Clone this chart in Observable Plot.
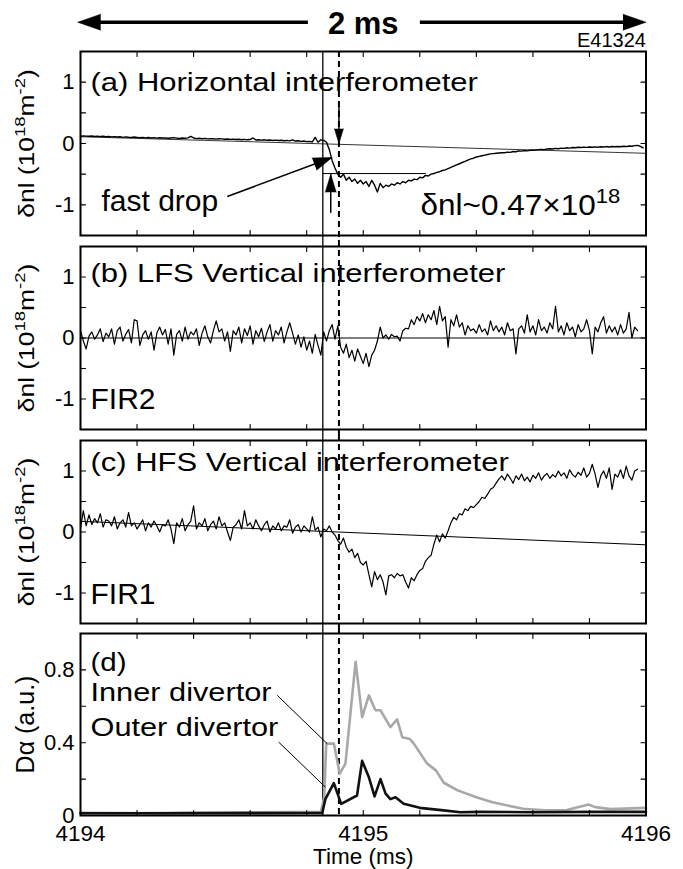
<!DOCTYPE html>
<html><head><meta charset="utf-8">
<script src="https://cdn.jsdelivr.net/npm/d3@7"></script>
<script src="https://cdn.jsdelivr.net/npm/@observablehq/plot@0.6"></script>
<style>
body{margin:0;background:#fff;}
#chart{width:683px;height:869px;position:relative;background:#fff;}
#chart svg{display:block;}
</style></head><body><div id="chart"></div>
<script>
// ---------- data ----------
const T0 = 4194, DT = 0.01;               // sampling of the interferometer traces (ms)
const xDomain = [4194, 4196];
const xTickValues = [4194, 4194.2, 4194.4, 4194.6, 4194.8, 4195, 4195.2, 4195.4, 4195.6, 4195.8, 4196];
const xLabelValues = [4194, 4195, 4196];
const xTickLabels = ["4194", "4195", "4196"];
const yTickValues = [-1, -0.5, 0, 0.5, 1];
const yLabelValues = [-1, 0, 1];
const yTickLabels = ["-1", "0", "1"];
const dTickValues = [0, 0.2, 0.4, 0.6, 0.8, 1.0];
const dLabelValues = [0, 0.4, 0.8];
const dTickLabels = ["0", "0.4", "0.8"];
const eventTimes = [4194.857, 4194.914];   // solid, dashed

const titles = ["(a) Horizontal interferometer", "(b) LFS Vertical interferometer", "(c) HFS Vertical interferometer", "(d)"];
const yLabelDn = "δnl (10^{18}m^{-2})";
const yLabelDa = "Dα (a.u.)";
const xLabel = "Time (ms)";

// (a) horizontal interferometer
const traceA = [
 0.12,0.125,0.12,0.118,0.122,0.115,0.12,0.113,0.118,0.11,
 0.115,0.108,0.112,0.105,0.11,0.1,0.108,0.102,0.098,0.105,
 0.1,0.095,0.1,0.092,0.098,0.09,0.095,0.088,0.093,0.09,
 0.092,0.085,0.09,0.095,0.088,0.082,0.09,0.085,0.092,0.115,
 0.09,0.08,0.085,0.078,0.083,0.075,0.08,0.077,0.072,0.078,
 0.075,0.07,0.073,0.068,0.072,0.065,0.07,0.062,0.068,0.06,
 0.065,0.09,0.058,0.062,0.055,0.06,0.052,0.058,0.05,0.055,
 0.048,0.052,0.045,0.05,0.042,0.06,0.04,0.045,0.035,0.04,
 0.03,0.035,0.025,0.1,0.02,0.06,0.05,0.02,-0.1,-0.28,
 -0.4,-0.5,-0.55,-0.5,-0.6,-0.55,-0.62,-0.58,-0.65,-0.6,
 -0.66,-0.62,-0.7,-0.6,-0.68,-0.79,-0.65,-0.72,-0.68,-0.7,
 -0.66,-0.68,-0.64,-0.66,-0.62,-0.64,-0.6,-0.61,-0.58,-0.59,
 -0.55,-0.56,-0.52,-0.53,-0.5,-0.49,-0.47,-0.46,-0.44,-0.43,
 -0.41,-0.39,-0.37,-0.35,-0.33,-0.31,-0.29,-0.27,-0.25,-0.24,
 -0.22,-0.21,-0.2,-0.19,-0.18,-0.17,-0.165,-0.16,-0.155,-0.15,
 -0.15,-0.14,-0.145,-0.13,-0.135,-0.12,-0.125,-0.115,-0.12,-0.11,
 -0.11,-0.105,-0.1,-0.095,-0.1,-0.09,-0.085,-0.09,-0.08,-0.085,
 -0.075,-0.08,-0.07,-0.075,-0.065,-0.07,-0.062,-0.066,-0.06,-0.064,
 -0.058,-0.062,-0.055,-0.06,-0.052,-0.058,-0.05,-0.056,-0.05,-0.054,
 -0.048,-0.052,-0.045,-0.05,-0.04,-0.045,-0.035,-0.03,-0.045,-0.07
];
const baselineA_t = [4194, 4196], baselineA_v = [0.11, -0.16];
const dropLevel_t = [4194.857, 4195.22], dropLevel_v = [-0.49, -0.49];
const downArrow = {t: 4194.914, from: 0.62, to: -0.005};
const upArrow = {t: 4194.885, from: -1.13, to: -0.5};
const fastDropArrow = {t1: 4194.519, v1: -0.865, t2: 4194.89, v2: -0.227};
const headerShafts = [{x1: 4194.03, x2: 4194.806}, {x1: 4195.202, x2: 4195.97}];
const headerHeads = [{t: 4193.99, rot: -90}, {t: 4196.0, rot: 90}];
const textA = {scale: "2 ms", shot: "E41324", fast: "fast drop", amount: "δnl~0.47×10^{18}"};

// (b) LFS vertical interferometer (FIR2)
const traceB = [
 0.12,-0.05,-0.18,0.03,0.1,-0.02,0.05,0.15,-0.06,0.08,
 0.02,0.15,-0.1,0.12,0.18,-0.05,0.06,0.14,-0.08,0.3,
 0.28,-0.12,0.05,0.12,-0.02,0.1,-0.2,0.08,0.18,0.05,
 0.14,-0.1,0.15,-0.28,0.06,0.12,-0.05,0.18,-0.02,0.1,
 0.05,0.15,-0.12,0.08,0.2,0.02,-0.08,0.12,0.28,0.1,
 0.15,-0.05,0.1,-0.22,0.12,0.05,0.18,-0.08,0.15,0.04,
 0.2,-0.1,0.12,0.02,0.16,-0.06,0.1,0.22,-0.05,0.12,
 0.05,0.18,-0.08,0.1,0.25,0.08,-0.1,0.05,-0.15,0.02,
 -0.2,-0.05,-0.25,0.06,-0.12,-0.28,0.1,-0.05,0.12,0.22,
 -0.02,0.2,-0.15,-0.25,-0.1,-0.32,-0.2,-0.38,-0.18,-0.3,
 -0.42,-0.25,-0.47,-0.28,-0.2,-0.05,0.18,0.0,0.05,-0.02,
 0.06,0.02,0.03,-0.05,0.12,0.16,0.15,0.3,0.22,0.35,
 0.28,0.4,0.25,0.38,0.3,0.45,0.22,0.52,0.28,0.35,
 -0.15,0.3,0.2,0.38,0.18,0.25,0.05,0.2,0.12,0.15,
 0.08,0.22,0.1,0.15,0.05,0.28,0.12,0.2,0.1,0.18,
 0.05,0.25,0.12,0.15,-0.26,0.15,0.2,0.08,0.38,0.1,
 0.2,0.05,0.3,0.12,0.18,0.08,0.25,0.15,0.52,0.1,
 0.2,0.05,0.25,0.12,0.18,0.02,0.22,0.1,0.15,0.3,
 0.12,-0.26,0.18,0.1,0.25,0.35,0.08,0.2,0.1,0.18,
 0.05,0.22,0.08,0.15,0.42,0.0,0.18,0.12
];
const baselineB_t = [4194, 4196], baselineB_v = [0, 0];
const labelB = "FIR2";

// (c) HFS vertical interferometer (FIR1)
const traceC = [
 0.05,0.35,0.1,0.28,0.12,0.22,0.15,0.3,0.08,0.2,
 0.18,0.1,0.25,0.05,0.15,0.2,0.08,0.32,0.1,0.15,
 0.05,0.12,0.2,0.02,0.15,0.08,0.18,0.1,0.0,0.12,
 0.1,0.2,0.05,-0.19,0.15,0.08,0.22,0.02,0.12,0.18,
 0.43,0.05,0.15,0.1,0.22,0.02,0.12,0.18,0.05,0.25,
 0.1,0.15,0.0,-0.14,0.08,0.12,0.2,0.05,0.35,0.1,
 0.15,0.05,0.2,0.1,0.02,0.12,0.18,0.0,0.1,0.05,
 0.15,0.02,0.1,0.08,0.2,-0.02,0.08,0.12,0.0,0.1,
 0.05,0.0,0.25,0.03,0.08,-0.08,0.05,0.02,0.1,0.0,
 -0.05,-0.14,-0.2,-0.1,-0.25,-0.33,-0.28,-0.42,-0.35,-0.5,
 -0.54,-0.48,-0.7,-0.9,-0.65,-0.78,-0.7,-0.82,-1.03,-0.72,
 -0.7,-0.75,-0.68,-0.72,-0.7,-0.82,-0.92,-0.75,-0.8,-0.7,
 -0.63,-0.6,-0.48,-0.42,-0.38,-0.2,-0.05,-0.16,-0.03,-0.1,
 0.02,0.15,0.24,0.2,0.3,0.28,0.38,0.35,0.42,0.4,
 0.45,0.5,0.57,0.55,0.62,0.7,0.73,0.8,0.87,0.92,
 0.85,0.95,0.88,0.8,0.92,0.86,0.95,0.84,0.9,0.82,
 0.93,0.88,0.97,0.85,0.92,0.96,0.88,0.94,0.9,1.0,
 0.92,0.97,0.88,1.02,0.94,0.9,0.98,0.93,1.05,0.9,
 0.96,1.11,0.95,0.73,0.92,1.0,0.88,1.05,0.7,0.95,
 0.9,1.02,0.88,1.08,0.92,0.85,1.0,1.03
];
const baselineC_t = [4194, 4196], baselineC_v = [0.175, -0.21];
const labelC = "FIR1";

// (d) D-alpha
const inner_t = [4194.0,4194.3,4194.6,4194.85,4194.862,4194.869,4194.896,4194.917,4194.937,4194.973,4194.996,4195.02,4195.043,4195.061,4195.096,4195.12,4195.138,4195.165,4195.179,4195.226,4195.257,4195.285,4195.334,4195.4,4195.457,4195.565,4195.642,4195.72,4195.797,4195.82,4195.874,4196.0];
const inner_v = [0.015,0.012,0.018,0.02,0.1,0.395,0.395,0.23,0.285,0.845,0.54,0.66,0.578,0.578,0.486,0.528,0.43,0.42,0.395,0.285,0.248,0.18,0.138,0.1,0.073,0.037,0.028,0.03,0.06,0.046,0.035,0.042];
const outer_t = [4194.0,4194.2,4194.4,4194.6,4194.8,4194.855,4194.866,4194.896,4194.922,4194.978,4194.996,4195.02,4195.04,4195.061,4195.079,4195.096,4195.114,4195.143,4195.2,4195.284,4195.344,4195.41,4195.6,4195.8,4196.0];
const outer_v = [0.012,0.012,0.013,0.013,0.014,0.014,0.09,0.178,0.064,0.11,0.30,0.21,0.105,0.2,0.12,0.09,0.1,0.064,0.042,0.028,0.018,0.02,0.018,0.02,0.02];
const seriesNames = ["Inner divertor", "Outer divertor"];
const leaders = [
  {t1: 4194.696, v1: 0.66, t2: 4194.873, v2: 0.394},
  {t1: 4194.701, v1: 0.403, t2: 4194.866, v2: 0.156}
];

// ---------- helpers ----------
const FONT = "'Liberation Sans', Arial, Helvetica, sans-serif";
const series = vals => vals.map((v, i) => ({t: T0 + i * DT, v}));
const pairs = (ts, vs) => ts.map((t, i) => ({t, v: vs[i]}));
const STRETCH = new Map([
  [titles[0], 1.21], [titles[1], 1.21], [titles[2], 1.21], [titles[3], 1.15],
  [seriesNames[0], 1.2], [seriesNames[1], 1.2], [yLabelDn, 1.2], [textA.amount, 1.05]
]);
const tickShape = {draw(context, l) { context.moveTo(0, 0); context.lineTo(0, -l); }};

function eventRules(insetTop, insetBottom) {
  return [
    Plot.ruleX([eventTimes[0]], {stroke: "black", strokeWidth: 1.3, insetTop, insetBottom}),
    Plot.ruleX([eventTimes[1]], {stroke: "black", strokeWidth: 2, strokeDasharray: "6,4", insetTop, insetBottom})
  ];
}
function frameAxes(yDom, yTicks, yLabVals, yLabs, showX) {
  const tk = {length: 5, shape: tickShape, anchor: "start", stroke: "black", strokeWidth: 1.1};
  const m = [
    Plot.vector(xTickValues, {x: d => d, y: () => yDom[1], rotate: 180, ...tk}),
    Plot.vector(xTickValues, {x: d => d, y: () => yDom[0], rotate: 0, ...tk}),
    Plot.vector(yTicks, {x: () => xDomain[0], y: d => d, rotate: 90, ...tk}),
    Plot.vector(yTicks, {x: () => xDomain[1], y: d => d, rotate: -90, ...tk}),
    Plot.axisY(yLabVals, {anchor: "left", tickSize: 0, tickPadding: 6, fontSize: 22, label: null,
      tickFormat: d => yLabs[yLabVals.indexOf(d)]})
  ];
  if (showX) m.push(Plot.axisX(xLabelValues, {anchor: "bottom", tickSize: 0, tickPadding: 9.5, fontSize: 22.5, label: null,
      tickFormat: d => xTickLabels[xLabelValues.indexOf(d)]}));
  m.push(Plot.frame({stroke: "black", strokeWidth: 2}));
  return m;
}
function yLabel(txt, size) {
  return Plot.text([txt], {text: d => d, frameAnchor: "left", dx: -47, rotate: -90, textAnchor: "middle",
    lineAnchor: "bottom", fontSize: size});
}
function label(txt, dx, dy, size, extra = {}) {
  return Plot.text([txt], {text: d => d, frameAnchor: "top-left", dx, dy, textAnchor: "start",
    lineAnchor: "bottom", fontSize: size, ...extra});
}
function panel(height, marginTop, marginBottom, yDomain, marks) {
  return Plot.plot({
    width: 683, height, marginLeft: 80, marginRight: 37.5, marginTop, marginBottom,
    x: {domain: xDomain, axis: null}, y: {domain: yDomain, axis: null},
    style: {fontFamily: FONT, fontSize: "22px", color: "black", background: "white", overflow: "visible"},
    marks
  });
}

// ---------- panels ----------
const domDn = [-1.5, 1.5], domDa = [0, 1];
const pA = panel(240, 51, 5, domDn, [
  ...eventRules(0, -5),
  Plot.line(pairs(baselineA_t, baselineA_v), {x: "t", y: "v", stroke: "black", strokeWidth: 0.8}),
  Plot.line(series(traceA), {x: "t", y: "v", stroke: "black", strokeWidth: 1.4}),
  Plot.line(pairs(dropLevel_t, dropLevel_v), {x: "t", y: "v", stroke: "black", strokeWidth: 1}),
  Plot.link([downArrow], {x1: "t", x2: "t", y1: "from", y2: "to", stroke: "black", strokeWidth: 1.5}),
  Plot.vector([downArrow], {x: "t", y: "to", rotate: 180, length: 15, r: 4.5, shape: "spike", anchor: "end", fill: "black", stroke: "black", strokeWidth: 0.5}),
  Plot.link([upArrow], {x1: "t", x2: "t", y1: "from", y2: "to", stroke: "black", strokeWidth: 1.5}),
  Plot.vector([upArrow], {x: "t", y: "to", rotate: 0, length: 18, r: 5.5, shape: "spike", anchor: "end", fill: "black", stroke: "black", strokeWidth: 0.5}),
  Plot.link([fastDropArrow], {x1: "t1", y1: "v1", x2: "t2", y2: "v2", stroke: "black", strokeWidth: 1.5}),
  Plot.vector([fastDropArrow], {x: "t2", y: "v2", rotate: 69.4, length: 19, r: 6.5, shape: "spike", anchor: "end", fill: "black", stroke: "black", strokeWidth: 0.5}),
  // header: 2 ms scale bar
  Plot.ruleY(headerShafts, {x1: "x1", x2: "x2", y: () => domDn[1], dy: -29.3, stroke: "black", strokeWidth: 3.5}),
  Plot.vector(headerHeads, {x: "t", y: () => domDn[1], dy: -29.3, rotate: "rot", length: 23, r: 8, shape: "spike", anchor: "end", fill: "black", stroke: "black", strokeWidth: 0.5}),
  Plot.text([textA.scale], {text: d => d, frameAnchor: "top", dy: -18, lineAnchor: "bottom", fontSize: 31, fontWeight: "bold"}),
  Plot.text([textA.shot], {text: d => d, frameAnchor: "top-right", dy: -4.3, textAnchor: "end", lineAnchor: "bottom", fontSize: 20}),
  label(titles[0], 10, 39, 25.6),
  label(textA.fast, 21, 159.7, 30),
  label(textA.amount, 340, 163, 30),
  yLabel(yLabelDn, 22),
  ...frameAxes(domDn, yTickValues, yLabelValues, yTickLabels, false)
]);

const pB = panel(194, 6, 5, domDn, [
  ...eventRules(-6, -5),
  Plot.line(pairs(baselineB_t, baselineB_v), {x: "t", y: "v", stroke: "black", strokeWidth: 1}),
  Plot.line(series(traceB), {x: "t", y: "v", stroke: "black", strokeWidth: 1.2}),
  label(titles[1], 10, 35.7, 25.6),
  label(labelB, 10, 162, 30),
  yLabel(yLabelDn, 22),
  ...frameAxes(domDn, yTickValues, yLabelValues, yTickLabels, false)
]);

const pC = panel(194, 6, 5, domDn, [
  ...eventRules(-6, -5),
  Plot.line(pairs(baselineC_t, baselineC_v), {x: "t", y: "v", stroke: "black", strokeWidth: 1}),
  Plot.line(series(traceC), {x: "t", y: "v", stroke: "black", strokeWidth: 1.2}),
  label(titles[2], 10, 30, 25.6),
  label(labelC, 10, 163, 30),
  yLabel(yLabelDn, 22),
  ...frameAxes(domDn, yTickValues, yLabelValues, yTickLabels, false)
]);

const pD = panel(241, 5, 54, domDa, [
  ...eventRules(-5, 0),
  Plot.line(pairs(inner_t, inner_v), {x: "t", y: "v", stroke: "#a8a8a8", strokeWidth: 2.6}),
  Plot.line(pairs(outer_t, outer_v), {x: "t", y: "v", stroke: "#111", strokeWidth: 2.6}),
  Plot.link(leaders, {x1: "t1", y1: "v1", x2: "t2", y2: "v2", stroke: "black", strokeWidth: 1}),
  label(titles[3], 10, 37, 25.6),
  label(seriesNames[0], 10, 67, 25.6),
  label(seriesNames[1], 10, 102, 25.6),
  Plot.text([xLabel], {text: d => d, frameAnchor: "bottom", dy: 48.5, lineAnchor: "bottom", fontSize: 22.5}),
  yLabel(yLabelDa, 25),
  ...frameAxes(domDa, dTickValues, dLabelValues, dTickLabels, true)
]);

const root = document.getElementById("chart");
for (const p of [pA, pB, pC, pD]) root.appendChild(p);

// superscripts and horizontal text stretch
const SVGNS = "http://www.w3.org/2000/svg";
for (const p of [pA, pB, pC, pD]) {
  d3.select(p).selectAll("text").each(function() {
    const el = this;
    const raw = el.textContent;
    if (raw.includes("^{")) {
      const fs = parseFloat(getComputedStyle(el).fontSize);
      const parts = raw.split(/(\^\{[^}]*\})/).filter(s => s.length);
      el.textContent = "";
      let raised = false;
      for (const part of parts) {
        const ts = document.createElementNS(SVGNS, "tspan");
        if (part.startsWith("^{")) {
          ts.textContent = part.slice(2, -1);
          ts.setAttribute("font-size", (fs * 0.7).toFixed(1));
          ts.setAttribute("dy", (-fs * 0.4).toFixed(1));
          raised = true;
        } else {
          ts.textContent = part;
          if (raised) { ts.setAttribute("dy", (fs * 0.4).toFixed(1)); raised = false; }
        }
        el.appendChild(ts);
      }
    }
    const k = STRETCH.get(raw);
    if (k) {
      const len = el.getComputedTextLength();
      el.setAttribute("textLength", (len * k).toFixed(1));
      el.setAttribute("lengthAdjust", "spacingAndGlyphs");
    }
  });
}
</script></body></html>
